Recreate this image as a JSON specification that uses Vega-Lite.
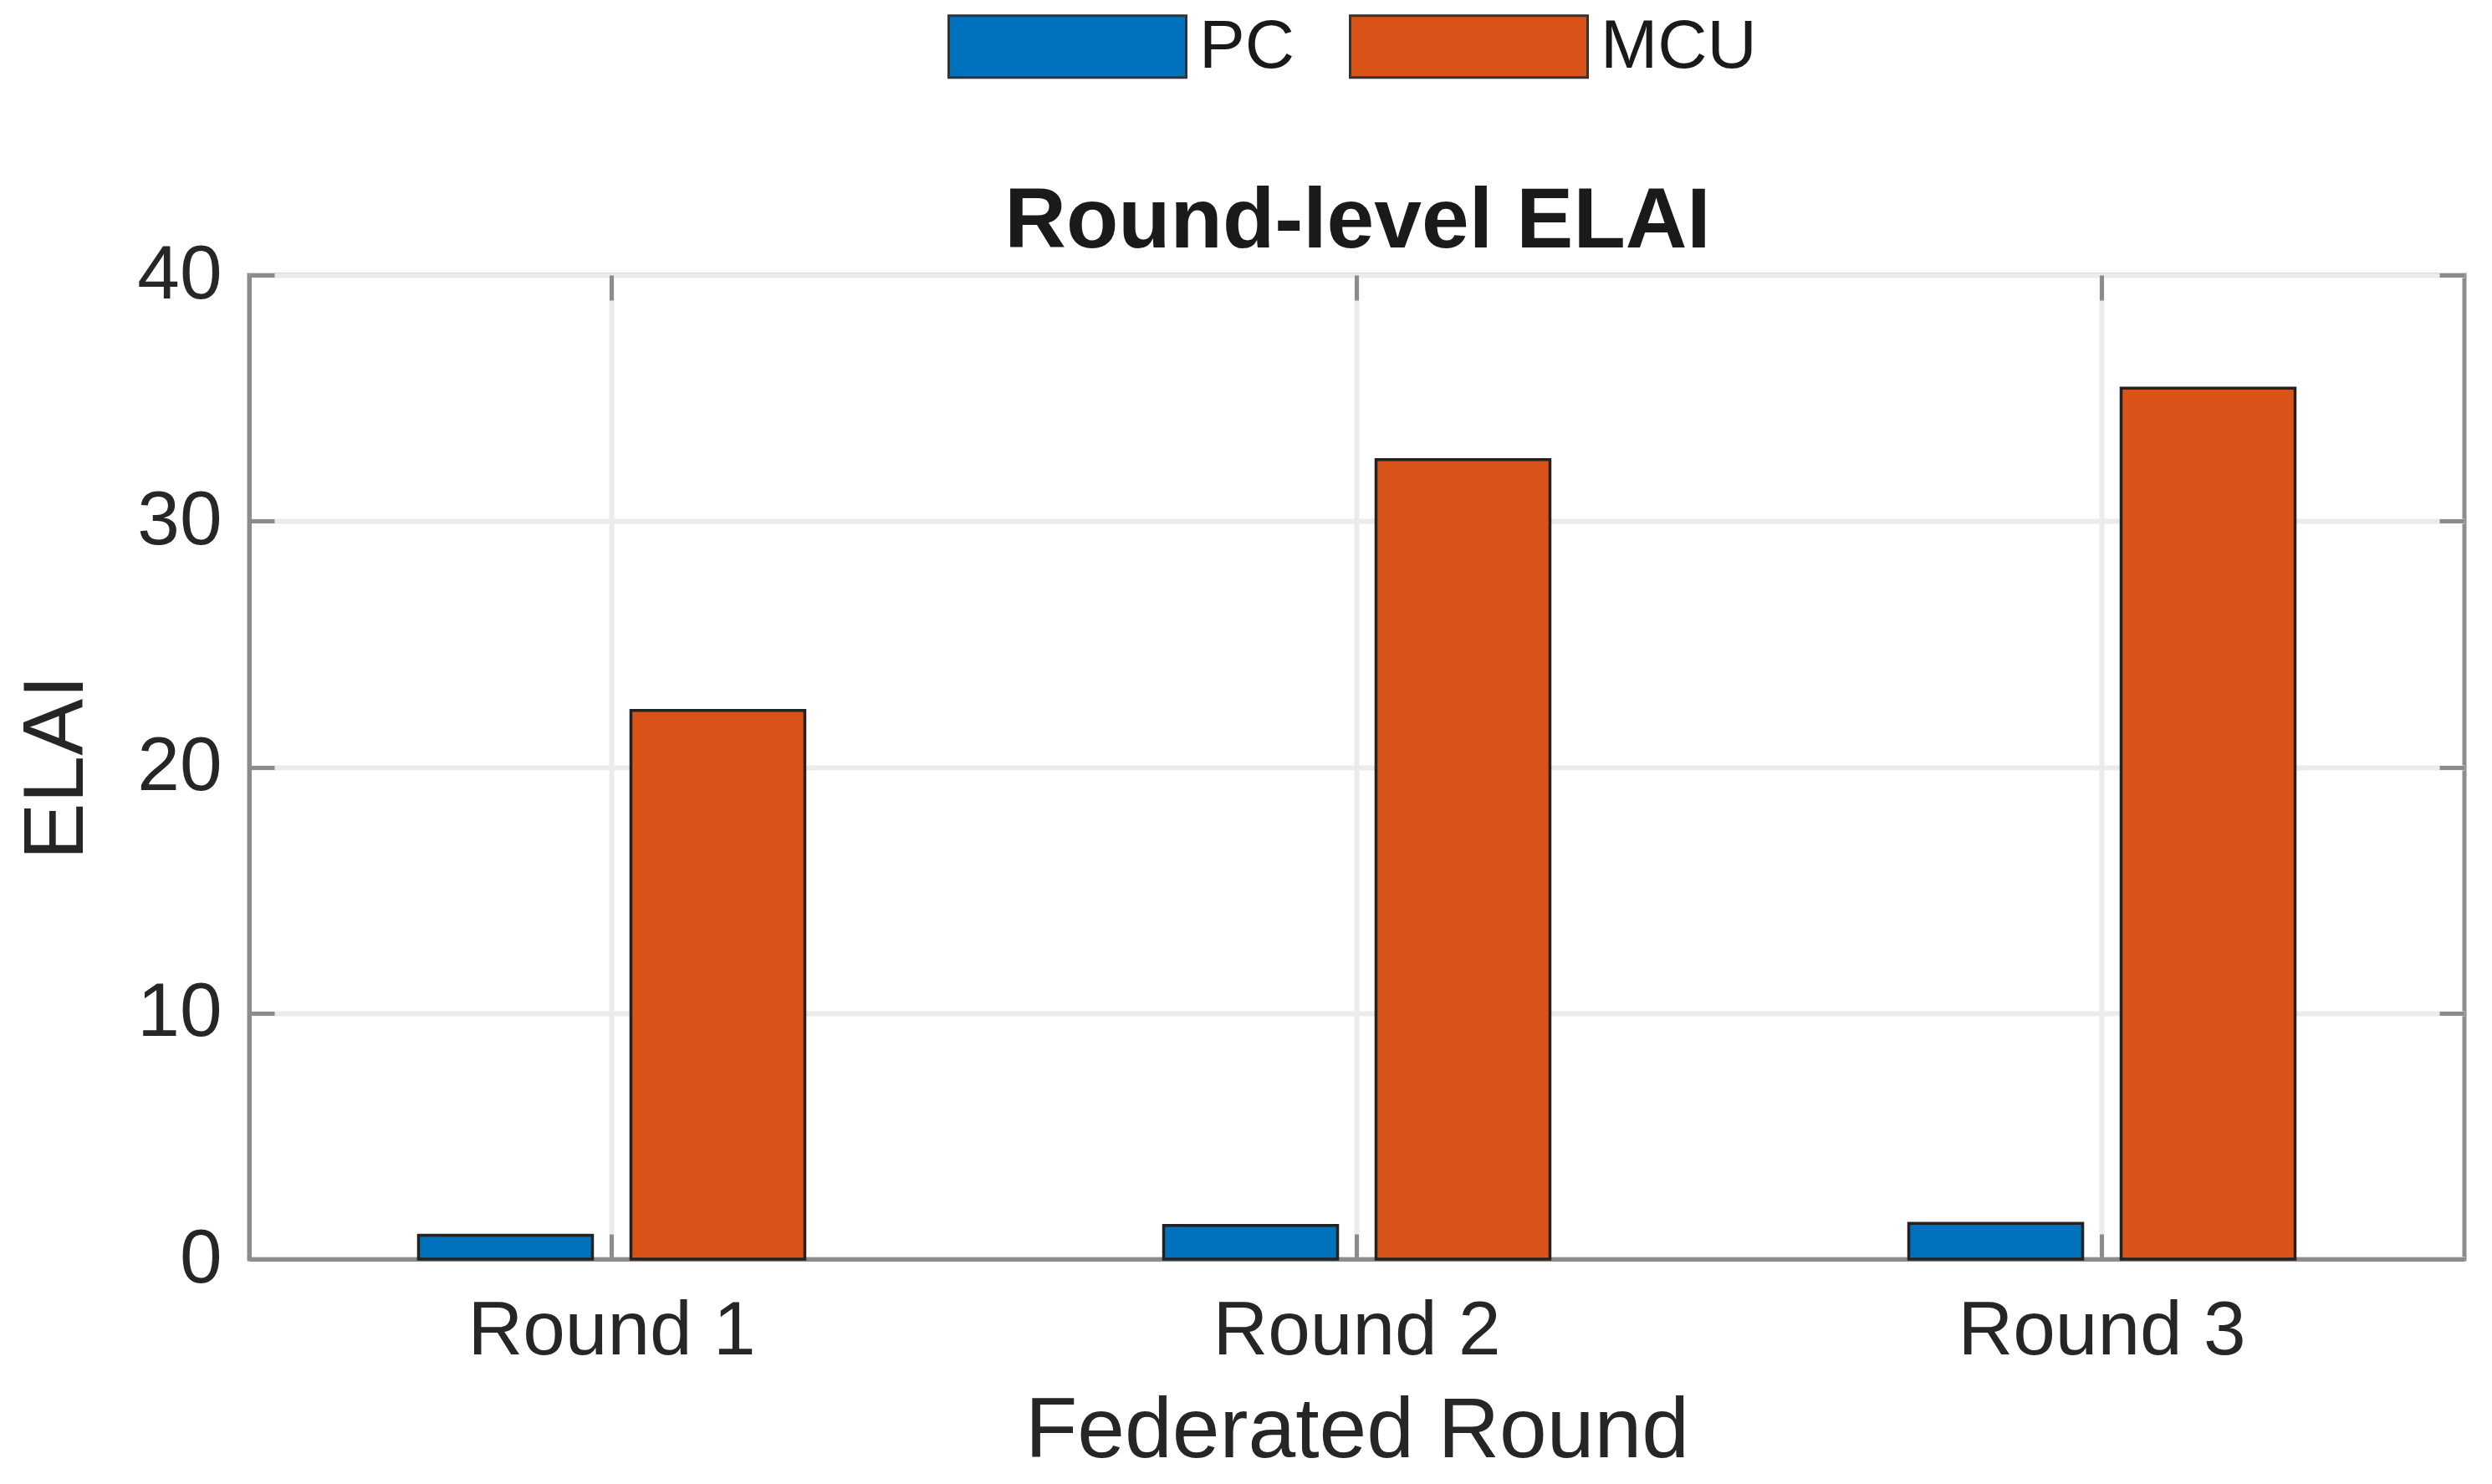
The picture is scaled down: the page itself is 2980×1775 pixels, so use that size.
{
  "$schema": "https://vega.github.io/schema/vega-lite/v6.json",
  "width": 2649,
  "height": 1177,
  "autosize": {"type": "none"},
  "padding": {"left": 298, "top": 329, "right": 33, "bottom": 269},
  "background": "white",
  "title": {
    "text": "Round-level ELAI",
    "font": "Liberation Sans",
    "fontSize": 102,
    "fontWeight": "bold",
    "color": "#1a1a1a",
    "anchor": "middle",
    "baseline": "alphabetic",
    "offset": 36,
    "dy": 522,
    "dx": 1
  },
  "data": {
    "values": [
      {"round": "Round 1", "device": "PC", "elai": 0.97},
      {"round": "Round 1", "device": "MCU", "elai": 22.3},
      {"round": "Round 2", "device": "PC", "elai": 1.37},
      {"round": "Round 2", "device": "MCU", "elai": 32.5},
      {"round": "Round 3", "device": "PC", "elai": 1.45},
      {"round": "Round 3", "device": "MCU", "elai": 35.4}
    ]
  },
  "layer": [
    {
      "mark": {"type": "bar", "stroke": "#222222", "strokeWidth": 3.5},
      "encoding": {
        "x": {
          "field": "round",
          "type": "nominal",
          "sort": ["Round 1", "Round 2", "Round 3"],
          "scale": {"paddingInner": 0.4, "paddingOuter": 0.1865},
          "axis": {
            "orient": "bottom",
            "title": "Federated Round",
            "labelAngle": 0,
            "grid": true,
            "labelPadding": 71,
            "titlePadding": 24
          }
        },
        "xOffset": {
          "field": "device",
          "type": "nominal",
          "sort": ["PC", "MCU"],
          "scale": {"paddingInner": 0.181, "paddingOuter": 0.143}
        },
        "y": {
          "field": "elai",
          "type": "quantitative",
          "scale": {"domain": [0, 40], "nice": false, "zero": true},
          "axis": {
            "orient": "left",
            "title": "ELAI",
            "values": [0, 10, 20, 30, 40],
            "grid": true,
            "labelPadding": 63,
            "titlePadding": 44
          }
        },
        "color": {
          "field": "device",
          "type": "nominal",
          "sort": ["PC", "MCU"],
          "scale": {"domain": ["PC", "MCU"], "range": ["#0072BD", "#D95319"]},
          "legend": {
            "orient": "none",
            "direction": "horizontal",
            "legendX": 835,
            "legendY": -417,
            "title": null,
            "padding": 0,
            "symbolType": "M-1,-0.26L1,-0.26L1,0.26L-1,0.26Z",
            "symbolSize": 80656,
            "symbolStrokeColor": "#333333",
            "symbolStrokeWidth": 3,
            "symbolOpacity": 1,
            "labelFont": "Liberation Sans",
            "labelFontSize": 82,
            "labelColor": "#1a1a1a",
            "labelLimit": 0,
            "labelOffset": 14,
            "columnPadding": 60
          }
        }
      }
    },
    {
      "mark": {"type": "bar", "opacity": 0},
      "encoding": {
        "x": {
          "field": "round",
          "type": "nominal",
          "sort": ["Round 1", "Round 2", "Round 3"],
          "axis": {
            "orient": "top",
            "title": null,
            "labels": false,
            "grid": false,
            "domain": false
          }
        },
        "y": {
          "field": "elai",
          "type": "quantitative",
          "axis": {
            "orient": "right",
            "title": null,
            "labels": false,
            "grid": false,
            "domain": false,
            "values": [0, 10, 20, 30, 40]
          }
        }
      }
    }
  ],
  "resolve": {"axis": {"x": "independent", "y": "independent"}},
  "config": {
    "view": {"stroke": "#8c8c8c", "strokeWidth": 5},
    "axis": {
      "domainColor": "#8c8c8c",
      "domainWidth": 5,
      "tickColor": "#8c8c8c",
      "tickWidth": 5,
      "tickSize": -30,
      "gridColor": "#ebebeb",
      "gridWidth": 6,
      "labelFont": "Liberation Sans",
      "labelFontSize": 91,
      "labelLimit": 0,
      "labelColor": "#262626",
      "titleFont": "Liberation Sans",
      "titleFontSize": 102,
      "titleFontWeight": "normal",
      "titleColor": "#262626"
    }
  }
}
